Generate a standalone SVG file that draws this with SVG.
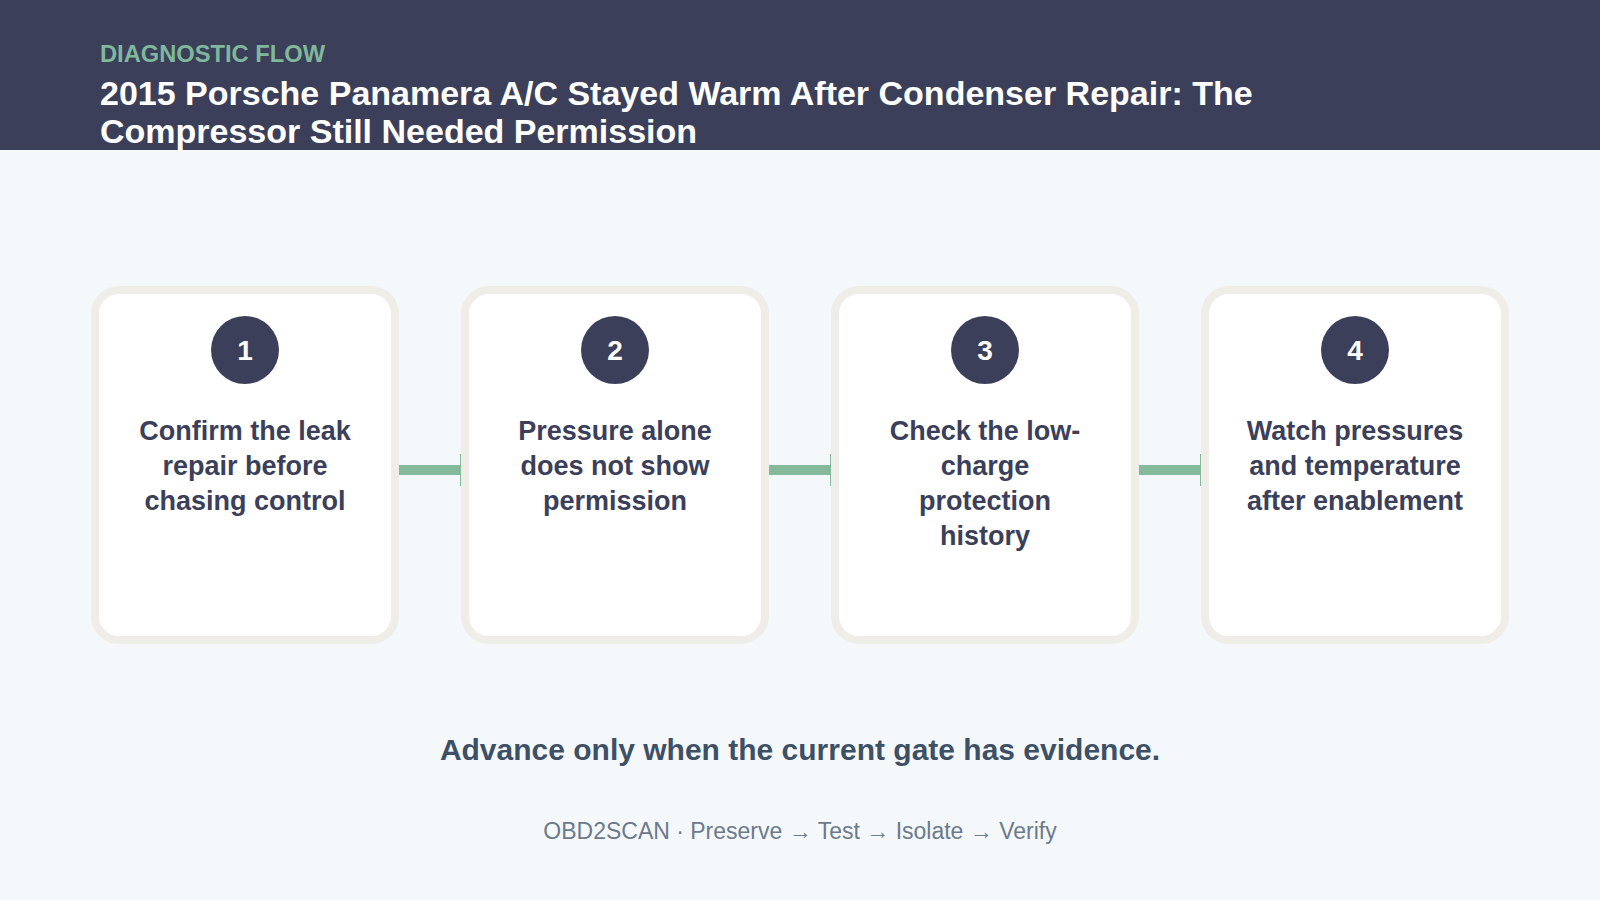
<svg xmlns="http://www.w3.org/2000/svg" width="1600" height="900" viewBox="0 0 1600 900">
<style>
.card{fill:#fff;stroke:#eeede7;stroke-width:8}
.num{fill:#3b3f5a}
.nt{font:bold 28px "Liberation Sans",Arial,sans-serif;fill:#fff;text-anchor:middle}
.lbl{font:bold 27px "Liberation Sans",Arial,sans-serif;fill:#3b3f5a;text-anchor:middle}
.bar{stroke:#84b99b;stroke-width:10}
.tick{stroke:#84b99b;stroke-width:2}
</style>
<rect width="1600" height="900" fill="#f5f8fb"/>
<rect width="1600" height="150" fill="#3b3f5a"/>
<text x="100" y="62" font-family="Liberation Sans,Arial,sans-serif" font-weight="bold" font-size="23.7" fill="#7fb89a">DIAGNOSTIC FLOW</text>
<text font-family="Liberation Sans,Arial,sans-serif" font-weight="bold" font-size="34" fill="#fff"><tspan x="100" y="105">2015 Porsche Panamera A/C Stayed Warm After Condenser Repair: The</tspan><tspan x="100" y="143">Compressor Still Needed Permission</tspan></text>
<g id="connectors">
<line class="bar" x1="399" y1="470" x2="461" y2="470"/><line class="tick" x1="461" y1="454" x2="461" y2="486"/>
<line class="bar" x1="769" y1="470" x2="831" y2="470"/><line class="tick" x1="831" y1="454" x2="831" y2="486"/>
<line class="bar" x1="1139" y1="470" x2="1201" y2="470"/><line class="tick" x1="1201" y1="454" x2="1201" y2="486"/>
</g>
<g id="n1"><rect class="card" x="95" y="290" width="300" height="350" rx="24"/><circle class="num" cx="245" cy="350" r="34"/><text class="nt" x="245" y="360">1</text>
<text class="lbl"><tspan x="245" y="440">Confirm the leak</tspan><tspan x="245" y="475">repair before</tspan><tspan x="245" y="510">chasing control</tspan></text></g>
<g id="n2"><rect class="card" x="465" y="290" width="300" height="350" rx="24"/><circle class="num" cx="615" cy="350" r="34"/><text class="nt" x="615" y="360">2</text>
<text class="lbl"><tspan x="615" y="440">Pressure alone</tspan><tspan x="615" y="475">does not show</tspan><tspan x="615" y="510">permission</tspan></text></g>
<g id="n3"><rect class="card" x="835" y="290" width="300" height="350" rx="24"/><circle class="num" cx="985" cy="350" r="34"/><text class="nt" x="985" y="360">3</text>
<text class="lbl"><tspan x="985" y="440">Check the low-</tspan><tspan x="985" y="475">charge</tspan><tspan x="985" y="510">protection</tspan><tspan x="985" y="545">history</tspan></text></g>
<g id="n4"><rect class="card" x="1205" y="290" width="300" height="350" rx="24"/><circle class="num" cx="1355" cy="350" r="34"/><text class="nt" x="1355" y="360">4</text>
<text class="lbl"><tspan x="1355" y="440">Watch pressures</tspan><tspan x="1355" y="475">and temperature</tspan><tspan x="1355" y="510">after enablement</tspan></text></g>
<text x="800" y="760" text-anchor="middle" font-family="Liberation Sans,Arial,sans-serif" font-weight="bold" font-size="30" fill="#3d5066">Advance only when the current gate has evidence.</text>
<text x="800" y="839" text-anchor="middle" font-family="Liberation Sans,Arial,sans-serif" font-size="23" fill="#6b7a8c">OBD2SCAN · Preserve → Test → Isolate → Verify</text>
</svg>
